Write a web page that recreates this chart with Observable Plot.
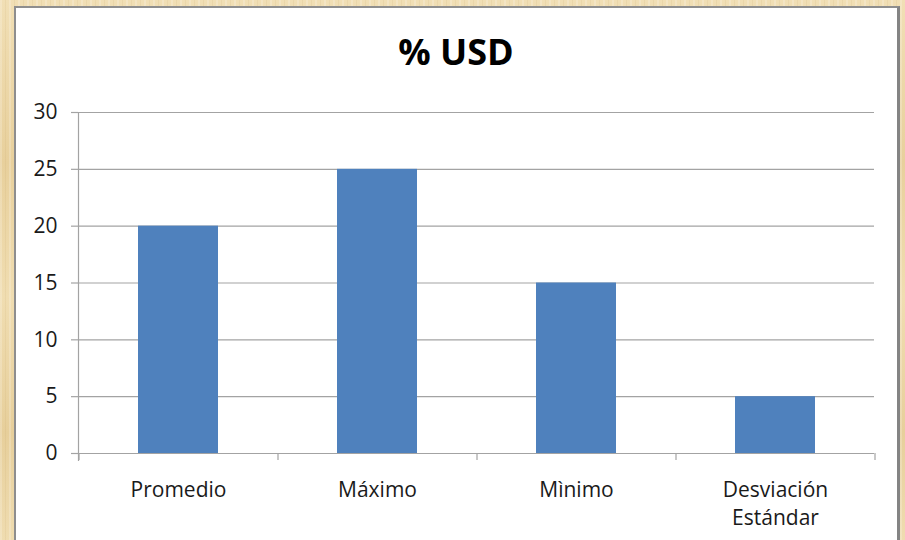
<!DOCTYPE html>
<html>
<head>
<meta charset="utf-8">
<script src="https://cdn.jsdelivr.net/npm/d3@7"></script>
<script src="https://cdn.jsdelivr.net/npm/@observablehq/plot@0.6"></script>
<style>
html, body { margin: 0; padding: 0; width: 905px; height: 540px; overflow: hidden; }
body {
  position: relative;
  background-color: #ecd6a6;
  background-image:
    repeating-linear-gradient(90deg, rgba(255,255,255,0.20) 0px, rgba(255,255,255,0.20) 2px, rgba(0,0,0,0) 2px, rgba(0,0,0,0) 5px, rgba(150,110,40,0.07) 5px, rgba(150,110,40,0.07) 6px, rgba(0,0,0,0) 6px, rgba(0,0,0,0) 9px),
    linear-gradient(180deg, #f1dfb5, #e8d09c 30%, #f0ddb1 55%, #e7cf9b 80%, #efdcb0);
  font-family: "Open Sans", sans-serif;
}
#panel {
  position: absolute; left: 14px; top: 6px; width: 881px; height: 560px;
  background: #fff;
  border-left: 2px solid #8e8e8e; border-top: 2px solid #8e8e8e; border-right: 3px solid #848484;
}
#title {
  position: absolute; left: 0; top: 34px; width: 912px; text-align: center;
  font: bold 36px "Open Sans", sans-serif; line-height: 36px; color: #000;
}
#chart { position: absolute; left: 0; top: 0; }
</style>
</head>
<body>
<div id="panel"></div>
<div id="title"></div>
<div id="chart"></div>
<script>
const titleText = "% USD";
const categories = ["Promedio", "Máximo", "Mìnimo", "Desviación Estándar"];
const xLabels = ["Promedio", "Máximo", "Mìnimo", "Desviación\nEstándar"];
const values = [20, 25, 15, 5];
const yTicks = [0, 5, 10, 15, 20, 25, 30];

document.getElementById("title").textContent = titleText;

const data = categories.map((c, i) => ({category: c, value: values[i]}));

const base = {
  width: 905, height: 540,
  marginLeft: 78, marginRight: 31, marginTop: 112, marginBottom: 87,
  style: {fontFamily: "Open Sans, sans-serif", fontSize: "21px", color: "#000", background: "transparent", overflow: "visible"},
  x: {domain: categories, paddingInner: 0.6, paddingOuter: 0.3, axis: null, label: null},
  y: {domain: [0, 30], axis: null, label: null}
};

const probe = Plot.plot({...base, marks: [Plot.barY(data, {x: "category", y: "value"})]});
const half = probe.scale("x").step / 2;

const gridColor = "#a3a3a3";

const chart = Plot.plot({
  ...base,
  marks: [
    Plot.gridY(yTicks, {stroke: gridColor, strokeOpacity: 1, strokeWidth: 1.2}),
    Plot.barY(data, {x: "category", y: "value", fill: "#4f81bd"}),
    Plot.axisY(yTicks, {tickSize: 7, tickPadding: 14, stroke: gridColor, strokeWidth: 1.2, fill: "#1a1a1a", fontSize: 21, label: null, tickFormat: d => String(d)}),
    Plot.frame({anchor: "left", stroke: gridColor, strokeWidth: 1.2, insetBottom: -7}),
    Plot.axisX({tickSize: 7, dx: -half, text: null, label: null, stroke: gridColor, strokeWidth: 1.2}),
    Plot.axisX([categories[categories.length - 1]], {tickSize: 7, dx: half, text: null, label: null, stroke: gridColor, strokeWidth: 1.2}),
    Plot.axisX({tickSize: 0, tickPadding: 24, lineHeight: 1.31, fill: "#1a1a1a", fontSize: 21, label: null,
      tickFormat: d => xLabels[categories.indexOf(d)]})
  ]
});
document.getElementById("chart").appendChild(chart);
</script>
</body>
</html>
